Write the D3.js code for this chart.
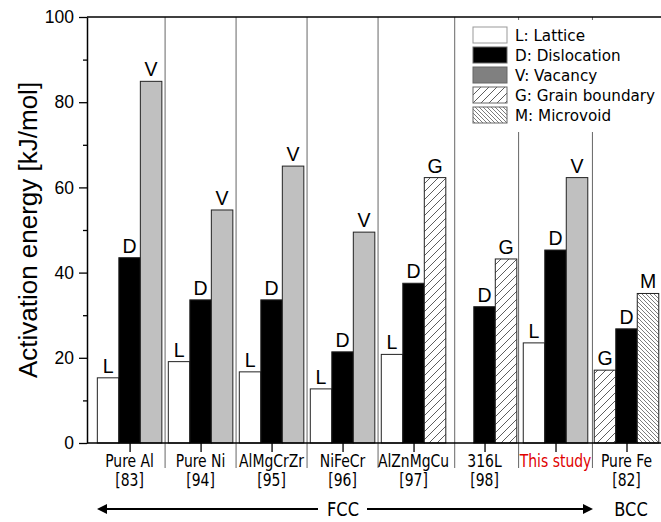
<!DOCTYPE html>
<html>
<head>
<meta charset="utf-8">
<script src="https://cdn.jsdelivr.net/npm/d3@7/dist/d3.min.js"></script>
<style>
  html, body { margin: 0; padding: 0; background: #fff; }
  svg { display: block; }
</style>
</head>
<body>
<svg id="chart" width="661" height="522"></svg>
<script>
// Activation energies of hydrogen trap sites per material
const categories = ["Pure Al", "Pure Ni", "AlMgCrZr", "NiFeCr", "AlZnMgCu", "316L", "This study", "Pure Fe"];
const refs = ["[83]", "[94]", "[95]", "[96]", "[97]", "[98]", "", "[82]"];

// three bar slots per material: left, centre (dislocation), right
const leftMech = ["L", "L", "L", "L", "L", null, "L", "G"];
const leftValue = [15.3, 19.1, 16.7, 12.7, 20.8, null, 23.5, 17.1];
const dislocationValue = [43.5, 33.6, 33.6, 21.4, 37.5, 32.0, 45.3, 26.8];
const rightMech = ["V", "V", "V", "V", "G", "G", "V", "M"];
const rightValue = [84.9, 54.7, 65.0, 49.5, 62.3, 43.2, 62.3, 35.1];

const mechanisms = ["L", "D", "V", "G", "M"];
const mechanismNames = ["Lattice", "Dislocation", "Vacancy", "Grain boundary", "Microvoid"];

// group separators, in category units
const separators = [0.5, 1.5, 2.5, 3.5, 4.58, 5.48, 6.52];
const yTicks = [0, 20, 40, 60, 80, 100];
const yMinorTicks = [10, 30, 50, 70, 90];

(function () {
const svg = d3.select("#chart");
const W = 661, H = 522;
const mLeft = 87, mTop = 17, mBottom = 443, mRight = 662;

const x = d3.scaleLinear().domain([-0.6, 7.5]).range([mLeft, mRight]);
const y = d3.scaleLinear().domain([0, 100]).range([mBottom, mTop]);
const slot = 0.303;

// hatch patterns
const defs = svg.append("defs");
const pG = defs.append("pattern").attr("id", "hatchG")
  .attr("patternUnits", "userSpaceOnUse").attr("width", 8).attr("height", 8);
pG.append("rect").attr("width", 8).attr("height", 8).attr("fill", "#fff");
pG.append("path").attr("d", "M0,8 L8,0 M-2,2 L2,-2 M6,10 L10,6")
  .attr("stroke", "#333").attr("stroke-width", 0.8);
const pM = defs.append("pattern").attr("id", "hatchM")
  .attr("patternUnits", "userSpaceOnUse").attr("width", 4).attr("height", 4);
pM.append("rect").attr("width", 4).attr("height", 4).attr("fill", "#fff");
pM.append("path").attr("d", "M0,0 L4,4 M-1,3 L1,5 M3,-1 L5,1")
  .attr("stroke", "#444").attr("stroke-width", 0.7);

const barFill = { L: "#fff", D: "#000", V: "#c0c0c0", G: "url(#hatchG)", M: "url(#hatchM)" };
const legendFill = { L: "#fff", D: "#000", V: "#808080", G: "url(#hatchG)", M: "url(#hatchM)" };

svg.append("rect").attr("width", W).attr("height", H).attr("fill", "#fff");

// group separators
svg.append("g").selectAll("line").data(separators).join("line")
  .attr("x1", d => x(d)).attr("x2", d => x(d))
  .attr("y1", mTop).attr("y2", 468)
  .attr("stroke", "#666").attr("stroke-width", 1);

// bars
const bars = [];
categories.forEach((c, i) => {
  if (leftMech[i]) bars.push({ i, s: -1, m: leftMech[i], v: leftValue[i] });
  bars.push({ i, s: 0, m: "D", v: dislocationValue[i] });
  bars.push({ i, s: 1, m: rightMech[i], v: rightValue[i] });
});

const barW = x(slot) - x(0);
const gBars = svg.append("g");
gBars.selectAll("rect").data(bars).join("rect")
  .attr("x", d => x(d.i + d.s * slot - slot / 2))
  .attr("width", barW)
  .attr("y", d => y(d.v))
  .attr("height", d => y(0) - y(d.v))
  .attr("fill", d => barFill[d.m])
  .attr("stroke", "#222").attr("stroke-width", 1);

gBars.selectAll("text").data(bars).join("text")
  .attr("x", d => x(d.i + d.s * slot))
  .attr("y", d => y(d.v) - 5)
  .attr("text-anchor", "middle")
  .attr("font-family", "Liberation Sans, Arial, sans-serif")
  .attr("font-size", 19.5)
  .text(d => d.m);

// y axis with major and minor ticks
const yAxis = svg.append("g").attr("transform", `translate(${mLeft},0)`)
  .call(d3.axisLeft(y).tickValues(yTicks).tickSize(8).tickPadding(5).tickSizeOuter(0));
svg.append("g").attr("transform", `translate(${mLeft},0)`)
  .call(d3.axisLeft(y).tickValues(yMinorTicks).tickSize(4).tickFormat("").tickSizeOuter(0))
  .call(g => g.select(".domain").remove());
yAxis.selectAll("text")
  .attr("font-family", "Liberation Sans, Arial, sans-serif")
  .attr("font-size", 17.5).attr("fill", "#000");
svg.selectAll(".tick line").attr("stroke", "#000").attr("stroke-width", 1.3);
yAxis.select(".domain").attr("stroke", "#000").attr("stroke-width", 1.5);

// top frame line
svg.append("line").attr("x1", mLeft).attr("x2", W).attr("y1", y(100)).attr("y2", y(100))
  .attr("stroke", "#000").attr("stroke-width", 1.5);

// x axis
const xAxis = svg.append("g").attr("transform", `translate(0,${mBottom})`)
  .call(d3.axisBottom(x).tickValues(d3.range(categories.length)).tickSize(9).tickFormat("").tickSizeOuter(0));
xAxis.select(".domain").attr("d", `M${mLeft},0H${W}`).attr("stroke", "#000").attr("stroke-width", 1.5);
xAxis.selectAll(".tick line").attr("stroke", "#000").attr("stroke-width", 1.3);

const labelFont = "DejaVu Sans Condensed, DejaVu Sans, sans-serif";
const xl = svg.append("g");
categories.forEach((c, i) => {
  xl.append("text")
    .attr("transform", `translate(${x(i)},466.5) scale(1,1.08)`)
    .attr("text-anchor", "middle")
    .attr("font-family", labelFont).attr("font-size", 15.5)
    .attr("fill", c === "This study" ? "#e00000" : "#000")
    .text(c);
  if (refs[i]) {
    xl.append("text")
      .attr("transform", `translate(${x(i)},485.5) scale(1,1.08)`)
      .attr("text-anchor", "middle")
      .attr("font-family", labelFont).attr("font-size", 15.5)
      .attr("fill", "#000")
      .text(refs[i]);
  }
});

// y axis title
svg.append("text")
  .attr("transform", "translate(37,230) rotate(-90)")
  .attr("text-anchor", "middle")
  .attr("font-family", "Liberation Sans, Arial, sans-serif")
  .attr("font-size", 26)
  .text("Activation energy [kJ/mol]");

// legend
const lg = svg.append("g");
lg.append("rect").attr("x", 466).attr("y", 20).attr("width", W - 466).attr("height", 112).attr("fill", "#fff");
mechanisms.forEach((m, k) => {
  lg.append("rect").attr("x", 473).attr("y", 27 + k * 20).attr("width", 34).attr("height", 16)
    .attr("fill", legendFill[m]).attr("stroke", m === "L" ? "#999" : "#666").attr("stroke-width", 1);
  lg.append("text").attr("x", 515).attr("y", 41 + k * 20)
    .attr("font-family", "DejaVu Sans, sans-serif").attr("font-size", 15.2)
    .text(`${m}: ${mechanismNames[k]}`);
});

// crystal structure arrows
const ay = 509;
function arrow(x0, x1) {
  const dir = Math.sign(x1 - x0);
  svg.append("line").attr("x1", x0).attr("x2", x1 - dir * 8).attr("y1", ay).attr("y2", ay)
    .attr("stroke", "#000").attr("stroke-width", 2);
  svg.append("path")
    .attr("d", `M${x1},${ay} L${x1 - dir * 10},${ay - 5} L${x1 - dir * 10},${ay + 5} Z`)
    .attr("fill", "#000");
}
arrow(318, 97);
arrow(367, 593);
const arrowFont = "DejaVu Sans Condensed, DejaVu Sans, sans-serif";
svg.append("text").attr("transform", `translate(343,516) scale(1,1.1)`).attr("text-anchor", "middle")
  .attr("font-family", arrowFont).attr("font-size", 18).text("FCC");
svg.append("text").attr("transform", `translate(631,516) scale(1,1.1)`).attr("text-anchor", "middle")
  .attr("font-family", arrowFont).attr("font-size", 18).text("BCC");
})();
</script>
</body>
</html>
